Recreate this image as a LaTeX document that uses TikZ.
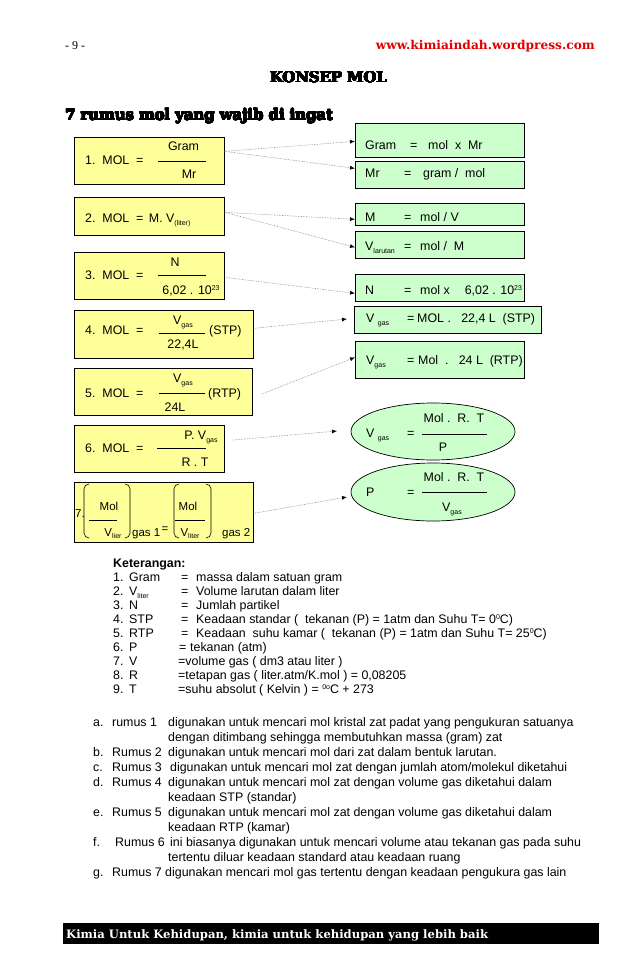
\documentclass[tikz,border=0pt]{standalone}
\usepackage{fontspec}
\usepackage[copies]{contour}
\setmainfont{Liberation Sans}
\newfontfamily\headfont{DejaVu Serif}
\newfontfamily\pagefont{Liberation Serif}
\usetikzlibrary{shapes.geometric,arrows.meta,positioning}
\definecolor{boxyellow}{HTML}{FFFF99}
\definecolor{boxgreen}{HTML}{CCFFCC}
\definecolor{urlred}{HTML}{E00000}
\contourlength{0.35pt}
\contournumber{24}
\newcommand\smallsub[1]{\raisebox{-2.5pt}{\fontsize{7}{8}\selectfont #1}}
\newcommand\smallsup[1]{\raisebox{4.5pt}{\fontsize{7}{8}\selectfont #1}}
\tikzset{
  yellowbox/.style={draw=black, fill=boxyellow, line width=0.7pt, anchor=north west},
  greenbox/.style={draw=black, fill=boxgreen, line width=0.7pt, anchor=north west},
  greenoval/.style={ellipse, draw=black, fill=boxgreen, line width=0.7pt},
  fracbar/.style={line width=0.6pt},
  bracket/.style={line width=0.6pt, rounded corners=5pt},
  link/.style={densely dotted, gray, line width=0.6pt,
    -{Latex[color=black, length=5pt, width=4pt]}},
}
\begin{document}
\begin{tikzpicture}[x=1pt, y=-1pt, font=\fontsize{12.4}{14}\selectfont,
  every node/.append style={inner sep=0pt}]
\useasboundingbox (0,0) rectangle (638,977);
% page head
\node[anchor=base west, font=\pagefont\fontsize{12}{14}\selectfont] (pagenum) at (65,49) {- 9 -};
\node[anchor=base east, text=urlred, font=\headfont\bfseries\fontsize{12.2}{14}\selectfont] (url) at (595,49) {www.kimiaindah.wordpress.com};
\node[anchor=base, font=\headfont\bfseries\fontsize{14.8}{18}\selectfont] (title) at (328.5,82.5) {\contour{black}{KONSEP MOL}};
\node[anchor=base west, font=\headfont\bfseries\fontsize{14.8}{18}\selectfont] (subtitle) at (65,120) {\contour{black}{7 rumus mol yang wajib di ingat}};

% the seven formulas
\node[yellowbox, minimum width=150pt, minimum height=47pt] (f1) at (74,137) {};
\node[yellowbox, minimum width=150pt, minimum height=38pt] (f2) at (74,197) {};
\node[yellowbox, minimum width=150pt, minimum height=47pt] (f3) at (74,252) {};
\node[yellowbox, minimum width=179pt, minimum height=48pt] (f4) at (74,310) {};
\node[yellowbox, minimum width=178pt, minimum height=47pt] (f5) at (74,368) {};
\node[yellowbox, minimum width=150pt, minimum height=47pt] (f6) at (74,425) {};
\node[yellowbox, minimum width=179pt, minimum height=60pt] (f7) at (74,482) {};

% 1
\node[anchor=base west] (f1lhs) at (85,164.5) {1.~~MOL~~=};
\node[anchor=base] (f1num) at (183.5,150.5) {Gram};
\draw[fracbar] (158,161) -- (206,161);
\node[anchor=base] (f1den) at (189,178.5) {Mr};
% 2
\node[anchor=base west] (f2lhs) at (85,222.5) {2.~~MOL~~=~\,M. V\smallsub{(liter)}};
% 3
\node[anchor=base west] (f3lhs) at (85,279.5) {3.~~MOL~~=};
\node[anchor=base] (f3num) at (175,266.5) {N};
\draw[fracbar] (158,275) -- (206,275);
\node[anchor=base] (f3den) at (191,294.5) {6,02 . 10\smallsup{23}};
% 4
\node[anchor=base west] (f4lhs) at (85,334.5) {4.~~MOL~~=};
\node[anchor=base] (f4num) at (183,324.5) {V\smallsub{gas}};
\draw[fracbar] (159,333) -- (205,333);
\node[anchor=base west] (f4cond) at (209,334.5) {(STP)};
\node[anchor=base] (f4den) at (183,348.5) {22,4L};
% 5
\node[anchor=base west] (f5lhs) at (85,397.5) {5.~~MOL~~=};
\node[anchor=base] (f5num) at (183,382.5) {V\smallsub{gas}};
\draw[fracbar] (159,393) -- (205,393);
\node[anchor=base west] (f5cond) at (208,397) {(RTP)};
\node[anchor=base] (f5den) at (175,411.5) {24L};
% 6
\node[anchor=base west] (f6lhs) at (85,452.5) {6.~~MOL~~=};
\node[anchor=base] (f6num) at (201,439.5) {P. V\smallsub{gas}};
\draw[fracbar] (157,448) -- (206,448);
\node[anchor=base] (f6den) at (195,466.5) {R . T};
% 7
\begin{scope}[font=\fontsize{11.5}{13}\selectfont]
\node[anchor=base west] (f7num) at (75,517) {7.};
\draw[bracket] (89,484) -- (84,484) -- (84,538) -- (89,538);
\draw[bracket] (125,484) -- (130,484) -- (130,538) -- (125,538);
\node[anchor=base] (f7mola) at (109,510) {Mol};
\draw[fracbar] (89,520) -- (117,520);
\node[anchor=base] (f7vola) at (113,536) {V\smallsub{lier}};
\node[anchor=base west] (f7gasa) at (132,536) {gas 1};
\node[anchor=base] (f7eq) at (165,532.5) {=};
\draw[bracket] (179,484) -- (174,484) -- (174,538) -- (179,538);
\draw[bracket] (206,484) -- (211,484) -- (211,538) -- (206,538);
\node[anchor=base] (f7molb) at (188,510) {Mol};
\draw[fracbar] (175,520) -- (205,520);
\node[anchor=base] (f7volb) at (190,536) {V\smallsub{liter}};
\node[anchor=base west] (f7gasb) at (222,536) {gas 2};
\end{scope}

% what each formula gives
\node[greenbox, minimum width=169pt, minimum height=34pt] (r1) at (355,123) {};
\node[greenbox, minimum width=169pt, minimum height=27pt] (r2) at (355,161) {};
\node[greenbox, minimum width=169pt, minimum height=22pt] (r3) at (355,203) {};
\node[greenbox, minimum width=169pt, minimum height=27pt] (r4) at (355,231) {};
\node[greenbox, minimum width=169pt, minimum height=27pt] (r5) at (355,274) {};
\node[greenbox, minimum width=187pt, minimum height=27pt] (r6) at (354,306) {};
\node[greenbox, minimum width=169pt, minimum height=37pt] (r7) at (355,341) {};
\node[greenoval, minimum width=164pt, minimum height=57pt] (e1) at (433,431.5) {};
\node[greenoval, minimum width=164pt, minimum height=58pt] (e2) at (433,492) {};

\node[anchor=base west] (r1txt) at (365,149.5) {\makebox[45pt][l]{Gram}\makebox[18pt][l]{=}mol~~x~~Mr};
\node[anchor=base west] (r2txt) at (365,177.5) {\makebox[39pt][l]{Mr}\makebox[19pt][l]{=}gram~/~~mol};
\node[anchor=base west] (r3txt) at (365,221.5) {\makebox[39pt][l]{M}\makebox[16pt][l]{=}mol / V};
\node[anchor=base west] (r4txt) at (365,250.5) {\makebox[39pt][l]{V\smallsub{larutan}}\makebox[16pt][l]{=}mol /~~M};
\node[anchor=base west] (r5txt) at (365,294.5) {\makebox[39pt][l]{N}\makebox[16pt][l]{=}mol x\hspace{15pt}6,02 . 10\smallsup{23}};
\node[anchor=base west] (r6txt) at (366,322.5) {\makebox[41pt][l]{V~\smallsub{gas}}\makebox[10pt][l]{=}MOL~.~~~22,4 L~~(STP)};
\node[anchor=base west] (r7txt) at (366,364.5) {\makebox[41pt][l]{V\smallsub{gas}}\makebox[11pt][l]{=}Mol~~.~~~24 L~~(RTP)};

\node[anchor=base west] (e1lhs) at (366,437.5) {\makebox[41pt][l]{V~\smallsub{gas}}=};
\node[anchor=base] (e1num) at (454,422.5) {Mol~.~~R.~~T};
\draw[fracbar] (422,434) -- (487,434);
\node[anchor=base] (e1den) at (443,451.5) {P};
\node[anchor=base west] (e2lhs) at (366,496.5) {\makebox[41pt][l]{P}=};
\node[anchor=base] (e2num) at (454,481.5) {Mol~.~~R.~~T};
\draw[fracbar] (422,492) -- (487,492);
\node[anchor=base] (e2den) at (452,511.5) {V\smallsub{gas}};

% dotted links
\draw[link] ([yshift=9.5pt]f1.east) -- ([yshift=-1pt]r1.west);
\draw[link] ([yshift=9.5pt]f1.east) -- ([yshift=6.5pt]r2.west);
\draw[link] ([yshift=4pt]f2.east) -- ([yshift=-5pt]r3.west);
\draw[link] ([yshift=4pt]f2.east) -- ([yshift=-2.5pt]r4.west);
\draw[link] ([yshift=-1.5pt]f3.east) -- ([yshift=-5.5pt]r5.west);
\coordinate (stptip) at (347,319);
\draw[link] ([yshift=6pt]f4.east) -- (stptip);
\coordinate (rtptail) at (262,394);
\draw[link] (rtptail) -- ([yshift=2.5pt]r7.west);
\coordinate (gastail) at (233,440);
\coordinate (gastip) at (337,431);
\draw[link] (gastail) -- (gastip);
\coordinate (ptip) at (347,497);
\draw[link] ([yshift=-1pt]f7.east) -- (ptip);

% keterangan
\node[anchor=base west, font=\bfseries\fontsize{12.4}{14}\selectfont] (keterangan) at (113,567) {Keterangan:};
\foreach \yy/\num/\lbl [count=\i] in {581.5/1./Gram, 595.5/2./{V\smallsub{liter}}, 609.5/3./N,
    623.5/4./STP, 637.5/5./RTP, 651.5/6./P, 665.5/7./V, 679.5/8./R, 693.5/9./T}
  \node[anchor=base west] (key\i) at (113,\yy) {\makebox[16pt][l]{\num}\lbl};
\node[anchor=base west] (def1) at (181,581.5) {\makebox[15pt][l]{=}massa dalam satuan gram};
\node[anchor=base west] (def2) at (181,595.5) {\makebox[15pt][l]{=}Volume larutan dalam liter};
\node[anchor=base west] (def3) at (181,609.5) {\makebox[15pt][l]{=}Jumlah partikel};
\node[anchor=base west] (def4) at (181,623.5) {\makebox[15pt][l]{=}Keadaan standar (~~tekanan (P) = 1atm dan Suhu T= 0\smallsup{0}C)};
\node[anchor=base west] (def5) at (181,637.5) {\makebox[15pt][l]{=}Keadaan~~suhu kamar (~~tekanan (P) = 1atm dan Suhu T= 25\smallsup{0}C)};
\node[anchor=base west] (def6) at (179,651.5) {\makebox[11pt][l]{=}tekanan (atm)};
\node[anchor=base west] (def7) at (178,665.5) {=volume gas ( dm3 atau liter )};
\node[anchor=base west] (def8) at (178,679.5) {=tetapan gas ( liter.atm/K.mol ) = 0,08205};
\node[anchor=base west] (def9) at (178,693.5) {=suhu absolut ( Kelvin ) = \smallsup{0o}C + 273};

% kegunaan rumus
\node[anchor=base west, font=\fontsize{12.4}{15}\selectfont] (usage) at (93,726.5) {\begin{tabular}[t]{@{}p{19pt}@{}p{56pt}@{}l@{}}
a. & rumus 1 & digunakan untuk mencari mol kristal zat padat yang pengukuran satuanya\\
 & & dengan ditimbang sehingga membutuhkan massa (gram) zat\\
b. & Rumus 2 & digunakan untuk mencari mol dari zat dalam bentuk larutan.\\
c. & Rumus 3 & \hspace{2pt}digunakan untuk mencari mol zat dengan jumlah atom/molekul diketahui\\
d. & Rumus 4 & digunakan untuk mencari mol zat dengan volume gas diketahui dalam\\
 & & keadaan STP (standar)\\
e. & Rumus 5 & digunakan untuk mencari mol zat dengan volume gas diketahui dalam\\
 & & keadaan RTP (kamar)\\
f. & \hspace{3pt}Rumus 6 & \hspace{2pt}ini biasanya digunakan untuk mencari volume atau tekanan gas pada suhu\\
 & & tertentu diluar keadaan standard atau keadaan ruang\\
g. & \multicolumn{2}{@{}l@{}}{Rumus 7 digunakan mencari mol gas tertentu dengan keadaan pengukura gas lain}
\end{tabular}};

% page foot
\fill[black] (63,923) rectangle (599,944);
\node[anchor=base west, text=white, font=\headfont\bfseries\fontsize{11.6}{14}\selectfont] (motto) at (66,938) {Kimia Untuk Kehidupan, kimia untuk kehidupan yang lebih baik};
\end{tikzpicture}
\end{document}
